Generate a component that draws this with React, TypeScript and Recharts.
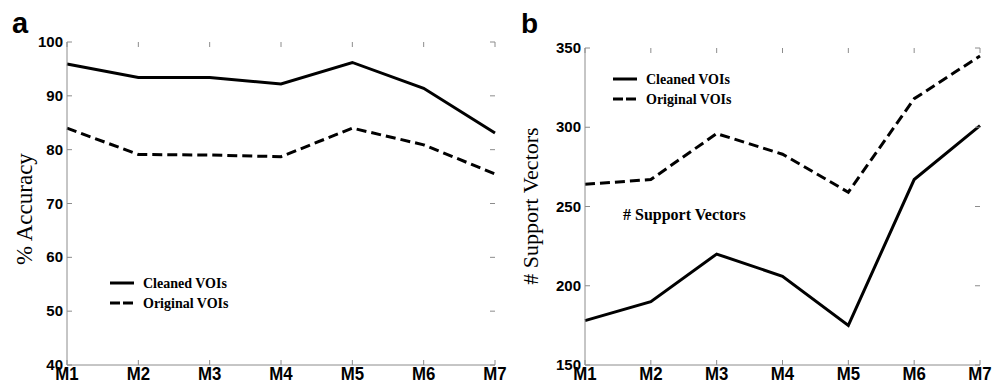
import React from 'react';
import { LineChart, Line, XAxis, YAxis } from 'recharts';

const models = ['M1', 'M2', 'M3', 'M4', 'M5', 'M6', 'M7'];
const accuracyCleaned = [95.9, 93.4, 93.4, 92.2, 96.2, 91.4, 83.1];
const accuracyOriginal = [84.0, 79.1, 79.0, 78.7, 84.0, 80.9, 75.5];
const svCleaned = [178, 190, 220, 206, 175, 267, 301];
const svOriginal = [264, 267, 296, 283, 259, 318, 345];
const accuracyTicks = [40, 50, 60, 70, 80, 90, 100];
const svTicks = [150, 200, 250, 300, 350];
const seriesNames = ['Cleaned VOIs', 'Original VOIs'];

const accData = models.map((m, i) => ({ m, cleaned: accuracyCleaned[i], original: accuracyOriginal[i] }));
const svData = models.map((m, i) => ({ m, cleaned: svCleaned[i], original: svOriginal[i] }));

const BOX = '#8c8c8c';
const SANS = 'Liberation Sans, Arial, sans-serif';
const SERIF = 'Liberation Serif, Times New Roman, serif';
const DASH = '10 5';

type Box = { left: number; right: number; top: number; bottom: number };

const makeXTick = (b: Box) => (props: any) => {
  const { x, payload } = props;
  return (
    <g>
      <line x1={x} x2={x} y1={b.bottom} y2={b.bottom - 5} stroke={BOX} />
      <line x1={x} x2={x} y1={b.top} y2={b.top + 5} stroke={BOX} />
      <text
        transform={`translate(${x},${b.bottom + 15}) scale(1.05,1.2)`}
        textAnchor="middle"
        fontFamily={SANS}
        fontWeight="bold"
        fontSize={16}
        fill="#000"
      >
        {payload.value}
      </text>
    </g>
  );
};

const makeYTick = (b: Box) => (props: any) => {
  const { y, payload } = props;
  return (
    <g>
      <line x1={b.left} x2={b.left + 5} y1={y} y2={y} stroke={BOX} />
      <line x1={b.right} x2={b.right - 5} y1={y} y2={y} stroke={BOX} />
      <text
        x={b.left - 4}
        y={y + 5}
        textAnchor="end"
        fontFamily={SANS}
        fontWeight="bold"
        fontSize={15}
        fill="#000"
      >
        {payload.value}
      </text>
    </g>
  );
};

const LegendBox = ({ x, y }: { x: number; y: number }) => (
  <g transform={`translate(${x},${y})`}>
    {seriesNames.map((name, i) => (
      <g key={name}>
        <line
          x1={0}
          x2={24}
          y1={i * 20}
          y2={i * 20}
          stroke="#000"
          strokeWidth={3}
          strokeDasharray={i === 1 ? '10 3' : undefined}
        />
        <text x={33} y={5 + i * 20} fontFamily={SERIF} fontWeight="bold" fontSize={14} fill="#000">
          {name}
        </text>
      </g>
    ))}
  </g>
);

function Panel({
  data,
  ticks,
  box,
  yWidth,
  width,
  margin,
}: {
  data: any[];
  ticks: number[];
  box: Box;
  yWidth: number;
  width: number;
  margin: any;
}) {
  const domain = [ticks[0], ticks[ticks.length - 1]];
  return (
    <LineChart width={width} height={383} data={data} margin={margin}>
      <XAxis
        dataKey="m"
        height={18}
        interval={0}
        axisLine={{ stroke: BOX }}
        tickLine={false}
        tick={makeXTick(box)}
      />
      <XAxis xAxisId="top" dataKey="m" orientation="top" height={0} axisLine={{ stroke: BOX }} tick={false} tickLine={false} />
      <YAxis
        width={yWidth}
        domain={domain}
        ticks={ticks}
        interval={0}
        axisLine={{ stroke: BOX }}
        tickLine={false}
        tick={makeYTick(box)}
      />
      <YAxis yAxisId="right" orientation="right" width={0} domain={domain} axisLine={{ stroke: BOX }} tick={false} tickLine={false} />
      <Line dataKey="cleaned" name={seriesNames[0]} stroke="#000" strokeWidth={3} dot={false} isAnimationActive={false} />
      <Line dataKey="original" name={seriesNames[1]} stroke="#000" strokeWidth={3} strokeDasharray={DASH} dot={false} isAnimationActive={false} />
    </LineChart>
  );
}

export default function App() {
  return (
    <div style={{ position: 'absolute', left: 0, top: 0, width: 1000, height: 383, background: '#fff', overflow: 'hidden' }}>
      <div style={{ position: 'absolute', left: 0, top: 0 }}>
        <Panel
          data={accData}
          ticks={accuracyTicks}
          box={{ left: 67, right: 495, top: 42, bottom: 365 }}
          yWidth={67}
          width={520}
          margin={{ top: 42, right: 25, bottom: 0, left: 0 }}
        />
      </div>
      <div style={{ position: 'absolute', left: 500, top: 0 }}>
        <Panel
          data={svData}
          ticks={svTicks}
          box={{ left: 85, right: 480, top: 48, bottom: 365 }}
          yWidth={85}
          width={500}
          margin={{ top: 48, right: 20, bottom: 0, left: 0 }}
        />
      </div>
      <svg width={1000} height={383} style={{ position: 'absolute', left: 0, top: 0, pointerEvents: 'none' }}>
        <text x={12} y={33} fontFamily={SANS} fontWeight="bold" fontSize={29} fill="#000">a</text>
        <text x={521} y={33} fontFamily={SANS} fontWeight="bold" fontSize={28} fill="#000">b</text>
        <text
          transform="translate(32,209) rotate(-90)"
          textAnchor="middle"
          fontFamily={SERIF}
          fontSize={23}
          fill="#000"
        >
          % Accuracy
        </text>
        <text
          transform="translate(538,206) rotate(-90)"
          textAnchor="middle"
          fontFamily={SERIF}
          fontSize={22}
          fill="#000"
        >
          # Support Vectors
        </text>
        <text x={623} y={220} fontFamily={SERIF} fontWeight="bold" fontSize={16} fill="#000">
          # Support Vectors
        </text>
        <LegendBox x={110} y={283} />
        <LegendBox x={613} y={79} />
      </svg>
    </div>
  );
}
